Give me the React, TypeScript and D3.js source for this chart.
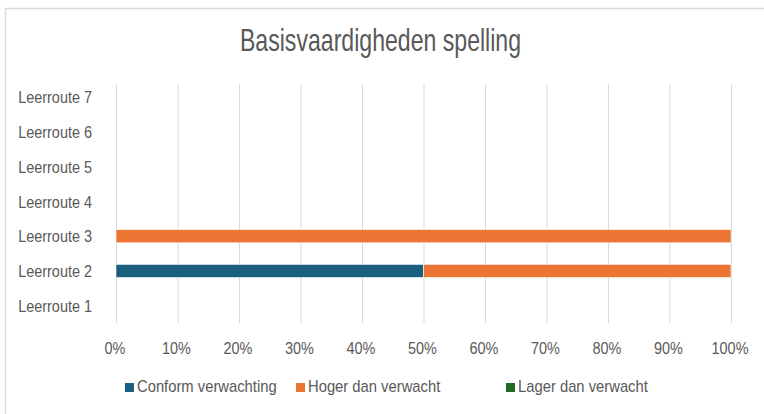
import React, { useEffect, useRef } from "react";
import * as d3 from "d3";

const categories = ["Leerroute 1", "Leerroute 2", "Leerroute 3", "Leerroute 4", "Leerroute 5", "Leerroute 6", "Leerroute 7"];
const seriesNames = ["Conform verwachting", "Hoger dan verwacht", "Lager dan verwacht"];
const conform = [0, 0.5, 0, 0, 0, 0, 0];
const hoger = [0, 0.5, 1, 0, 0, 0, 0];
const lager = [0, 0, 0, 0, 0, 0, 0];
const colors = ["#1b5f80", "#ed7533", "#1e6b24"];
const xTicks = [0, 0.1, 0.2, 0.3, 0.4, 0.5, 0.6, 0.7, 0.8, 0.9, 1];

const font = "'Liberation Sans', Arial, sans-serif";
const grey = "#595959";

// narrow text: Liberation Sans squeezed horizontally
const narrowText = (
  sel: any,
  x: number,
  y: number,
  txt: string,
  size: number,
  sx: number,
  anchor = "start"
) =>
  sel
    .append("text")
    .attr("transform", `translate(${x},${y}) scale(${sx},1)`)
    .attr("text-anchor", anchor)
    .attr("font-family", font)
    .attr("font-size", size)
    .attr("fill", grey)
    .text(txt);

const App = () => {
  const svgRef = useRef<SVGSVGElement>(null);

  useEffect(() => {
    const width = 764;
    const height = 414;
    const margin = { top: 80, right: 33, bottom: 91, left: 116 };

    const svg = d3.select(svgRef.current);
    svg.selectAll("*").remove();
    svg.attr("width", width).attr("height", height);

    // frame
    svg.append("rect").attr("width", width).attr("height", height).attr("fill", "#fff");
    svg
      .append("path")
      .attr("d", `M5.5,${height} V8.5 H${width}`)
      .attr("fill", "none")
      .attr("stroke", "#d9d9d9")
      .attr("stroke-width", 1.5);

    narrowText(svg, 380.5, 51, "Basisvaardigheden spelling", 31, 0.745, "middle");

    const x = d3.scaleLinear().domain([0, 1]).range([margin.left, width - margin.right]);
    const y = d3
      .scaleBand()
      .domain(categories)
      .range([height - margin.bottom, margin.top])
      .paddingInner(0.62)
      .paddingOuter(0.31);

    // gridlines
    svg
      .append("g")
      .selectAll("line")
      .data(xTicks)
      .join("line")
      .attr("x1", (d) => x(d) + 0.5)
      .attr("x2", (d) => x(d) + 0.5)
      .attr("y1", 84)
      .attr("y2", height - margin.bottom)
      .attr("stroke", "#d9d9d9")
      .attr("stroke-width", 1);

    const rows = categories.map((c, i) => ({ cat: c, vals: [conform[i], hoger[i], lager[i]] }));
    const stack = d3.stack<any>().keys([0, 1, 2] as any).value((d: any, k: any) => d.vals[k]);
    const layers = stack(rows as any);

    svg
      .append("g")
      .selectAll("g")
      .data(layers)
      .join("g")
      .attr("fill", (_, i) => colors[i])
      .selectAll("rect")
      .data((d) => d.filter((s) => s[1] - s[0] > 0))
      .join("rect")
      .attr("x", (d) => x(d[0]))
      .attr("width", (d) => x(d[1]) - x(d[0]))
      .attr("y", (d: any) => y(d.data.cat)!)
      .attr("height", y.bandwidth())
      .attr("stroke", "#fff")
      .attr("stroke-width", 0.6);

    // x tick labels
    const fmt = d3.format(".0%");
    const xg = svg.append("g");
    xTicks.forEach((t) => narrowText(xg, x(t) - 1, 354, fmt(t), 17, 0.85, "middle"));

    // y labels
    const yg = svg.append("g");
    categories.forEach((c) => narrowText(yg, 92, y(c)! + y.bandwidth() / 2 + 6, c, 17, 0.85, "end"));

    // legend
    const legendX = [125, 296, 506];
    const lg = svg.append("g");
    seriesNames.forEach((s, i) => {
      lg.append("rect")
        .attr("x", legendX[i])
        .attr("y", 383)
        .attr("width", 9)
        .attr("height", 9)
        .attr("fill", colors[i]);
      narrowText(lg, legendX[i] + 12, 392, s, 17, 0.87);
    });
  }, []);

  return <svg ref={svgRef} style={{ position: "absolute", left: 0, top: 0 }}></svg>;
};

export default App;
